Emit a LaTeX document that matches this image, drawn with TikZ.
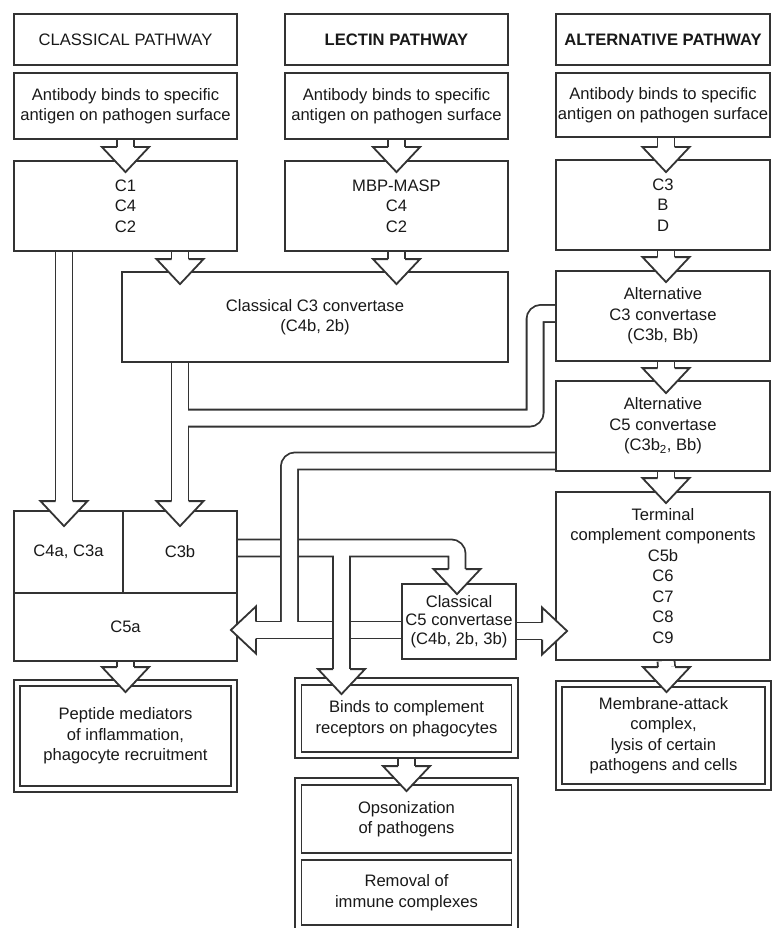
\documentclass[tikz,border=0pt]{standalone}
\usepackage{fontspec}
\setmainfont{Liberation Sans}
\usetikzlibrary{calc}
\pgfdeclarelayer{bg}
\pgfsetlayers{bg,main}
\tikzset{
  bx/.style={draw=black!80, line width=1.8pt, fill=white, inner sep=0pt, align=center, text=black!90,
             font=\fontsize{16.6}{20.5}\selectfont},
  sho/.style={draw=black!80, line width=18.8pt, line cap=butt},
  shi/.style={draw=white, line width=15.2pt, line cap=butt},
  hd/.style={draw=black!80, line width=1.8pt, fill=white, line join=miter},
}
\newcommand\hdown[1]{\filldraw[hd] ($(#1)+(-8.5,0)$) -- ($(#1)+(-23.5,0)$) -- ($(#1)+(0,25)$) -- ($(#1)+(23.5,0)$) -- ($(#1)+(8.5,0)$);}
\newcommand\hleft[1]{\filldraw[hd] ($(#1)+(0,-8.5)$) -- ($(#1)+(0,-23.5)$) -- ($(#1)+(-25,0)$) -- ($(#1)+(0,23.5)$) -- ($(#1)+(0,8.5)$);}
\newcommand\hright[1]{\filldraw[hd] ($(#1)+(0,-8.5)$) -- ($(#1)+(0,-23.5)$) -- ($(#1)+(25,0)$) -- ($(#1)+(0,23.5)$) -- ($(#1)+(0,8.5)$);}
\begin{document}
\begin{tikzpicture}[x=1pt,y=-1pt]
\useasboundingbox (0,0) rectangle (772,928);
% ---- boxes
\node[bx, minimum width=223, minimum height=51] (t1) at (125.5,39.5) {CLASSICAL PATHWAY};
\node[bx, minimum width=223, minimum height=51] (t2) at (396.5,39.5) {\textbf{LECTIN PATHWAY}};
\node[bx, minimum width=214, minimum height=51] (t3) at (663,39.5) {\textbf{ALTERNATIVE PATHWAY}};
\node[bx, minimum width=223, minimum height=66] (ab1) at (125.5,106) {Antibody binds to specific\\antigen on pathogen surface};
\node[bx, minimum width=223, minimum height=66] (ab2) at (396.5,106) {Antibody binds to specific\\antigen on pathogen surface};
\node[bx, minimum width=214, minimum height=64] (ab3) at (663,105) {Antibody binds to specific\\antigen on pathogen surface};
\node[bx, minimum width=223, minimum height=90] (c1) at (125.5,206) {C1\\C4\\C2};
\node[bx, minimum width=223, minimum height=90] (c2) at (396.5,206) {MBP-MASP\\C4\\C2};
\node[bx, minimum width=214, minimum height=90] (c3) at (663,205) {C3\\B\\D};
\node[bx, minimum width=386, minimum height=90] (c3conv) at (315,317) {Classical C3 convertase\\(C4b, 2b)};
\node[bx, minimum width=214, minimum height=90] (altc3) at (663,316) {Alternative\\C3 convertase\\(C3b, Bb)};
\node[bx, minimum width=214, minimum height=90] (altc5) at (663,426) {Alternative\\C5 convertase\\(C3b\textsubscript{2}, Bb)};
\node[bx, minimum width=214, minimum height=168] (term) at (663,576) {Terminal\\complement components\\C5b\\C6\\C7\\C8\\C9};
\node[bx, minimum width=109, minimum height=82] (c4a) at (68.5,552) {C4a, C3a};
\node[bx, minimum width=114, minimum height=82] (c3b) at (180,552) {C3b};
\node[bx, minimum width=223, minimum height=68] (c5a) at (125.5,627) {C5a};
\node[bx, minimum width=114, minimum height=75, font=\fontsize{16.6}{18.5}\selectfont] (c5conv) at (459,621.5) {Classical\\C5 convertase\\(C4b, 2b, 3b)};
\node[bx, minimum width=223, minimum height=112] (pepo) at (125.5,736) {};
\node[bx, minimum width=211, minimum height=100] (pepi) at (125.5,736) {Peptide mediators\\of inflammation,\\phagocyte recruitment};
\node[bx, minimum width=223, minimum height=80] (bindso) at (406.5,718) {};
\node[bx, minimum width=210, minimum height=67] (bindsi) at (406.5,718.5) {Binds to complement\\receptors on phagocytes};
\node[bx, minimum width=223, minimum height=154] (opso) at (406.5,855) {};
\node[bx, minimum width=210, minimum height=68] (opsi) at (406.5,819) {Opsonization\\of pathogens};
\node[bx, minimum width=210, minimum height=65] (remi) at (406.5,892.5) {Removal of\\immune complexes};
\node[bx, minimum width=215, minimum height=109] (maco) at (663.5,735.5) {};
\node[bx, minimum width=203, minimum height=97] (maci) at (663.5,735.5) {Membrane-attack\\complex,\\lysis of certain\\pathogens and cells};
% ---- coordinates of connectors
\coordinate (s1) at (ab1.south); \coordinate (h1) at ($(c1.north)+(0,-13)$);
\coordinate (s2) at (ab2.south); \coordinate (h2) at ($(c2.north)+(0,-13)$);
\coordinate (s3) at ($(ab3.south)+(3,0)$); \coordinate (h3) at ($(c3.north)+(3,-12)$);
\coordinate (s4) at ($(c1.south)+(54.5,0)$); \coordinate (h4) at ($(s4 |- c3conv.north)+(0,-12)$);
\coordinate (s5) at (c2.south); \coordinate (h5) at ($(s5 |- c3conv.north)+(0,-12)$);
\coordinate (s6) at ($(c3.south)+(3,0)$); \coordinate (h6) at ($(altc3.north)+(3,-13)$);
\coordinate (s7) at ($(altc3.south)+(3,0)$); \coordinate (h7) at ($(altc5.north)+(3,-12)$);
\coordinate (s8) at ($(altc5.south)+(3,0)$); \coordinate (h8) at ($(term.north)+(3,-13)$);
\coordinate (s9) at ($(term.south)+(3,0)$); \coordinate (h9) at ($(maco.north)+(3,-13)$);
\coordinate (s10) at (c5a.south); \coordinate (h10) at ($(pepo.north)+(0,-12)$);
\coordinate (s11) at (bindso.south); \coordinate (h11) at ($(opso.north)+(0,-11)$);
\coordinate (s12) at ($(c1.south)+(-61.5,0)$); \coordinate (h12) at ($(s12 |- c4a.north)+(0,-9)$);
\coordinate (sA) at (c3conv.south -| c3b.north); \coordinate (hA) at ($(c3b.north)+(0,-9)$);
\coordinate (jA) at ($(hA)+(0,-83)$);
\coordinate (ba1) at ($(altc3.west)+(0,-2.5)$);
\coordinate (bb1) at ($(c3b.east)+(0,-4)$);
\coordinate (hB1) at ($(c5conv.north)+(-2,-14)$);
\coordinate (hB2) at ($(bindso.north)+(-65,-8)$);
\coordinate (bc1) at ($(altc5.west)+(0,35)$);
\coordinate (hC) at ($(c5a.east)+(18,3)$);
\coordinate (jC) at ($(hC)+(33.5,0)$);
\coordinate (hR) at ($(term.west)+(-13,55)$);
% ---- shafts and bands (behind boxes)
\begin{pgfonlayer}{bg}
\foreach \a/\b in {s1/h1,s2/h2,s3/h3,s4/h4,s5/h5,s6/h6,s7/h7,s8/h8,s9/h9,s10/h10,s11/h11,s12/h12}
  {\draw[sho] (\a) -- (\b); \draw[shi] (\a) -- (\b);}
% C3 convertase -> C3b, joined by alternative C3 convertase
\draw[sho] (sA) -- (hA);
\draw[sho, rounded corners=6] (ba1) -- ++(-20,0) |- (jA);
\draw[shi] (sA) -- (hA);
\draw[shi, rounded corners=6] (ba1) -- ++(-20,0) |- (jA);
% C3b -> classical C5 convertase and -> binds
\draw[sho, rounded corners=6] (bb1) -| (hB1);
\draw[sho] (bb1 -| hB2) -- (hB2);
\draw[shi, rounded corners=6] (bb1) -| (hB1);
\draw[shi] (bb1 -| hB2) -- (hB2);
% alternative C5 convertase and classical C5 convertase -> C5a
\draw[sho, rounded corners=6] (bc1) -| (jC);
\draw[sho] (c5conv.west |- hC) -- (hC);
\draw[shi, rounded corners=6] (bc1) -| (jC);
\draw[shi] (c5conv.west |- hC) -- (hC);
% binds branch passes over
\draw[sho] ($(hB2)+(0,-65)$) -- ($(hB2)+(0,-15)$);
\draw[shi] ($(hB2)+(0,-65)$) -- ($(hB2)+(0,-15)$);
% classical C5 convertase -> terminal
\draw[sho] (c5conv.east |- hR) -- (hR);
\draw[shi] (c5conv.east |- hR) -- (hR);
\end{pgfonlayer}
% ---- heads
\foreach \h in {h1,h2,h3,h4,h5,h6,h7,h8,h9,h10,h11,h12,hA,hB1,hB2} {\hdown{\h}}
\hleft{hC}
\hright{hR}
\end{tikzpicture}
\end{document}
